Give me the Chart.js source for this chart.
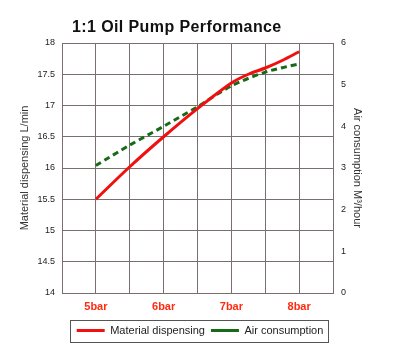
<!DOCTYPE html>
<html lang="en">
<head>
    <meta charset="UTF-8">
    <title>1:1 Oil Pump Performance</title>
    <script src="https://cdn.jsdelivr.net/npm/chart.js"></script>
    <style>
        html, body { margin: 0; padding: 0; background: #fff; }
        #wrap { width: 400px; height: 364px; }
    </style>
</head>
<body>
    <div id="wrap"><canvas id="myChart" width="400" height="364"></canvas></div>
    <script>
        // pressure (bar) and readings
        const pressureMaterial = [5, 5.5, 6, 6.5, 7, 7.25, 7.5, 7.75, 8];
        const materialDispensing = [15.5, 16.02, 16.5, 16.95, 17.36, 17.5, 17.6, 17.72, 17.86];
        const pressureAir = [5, 5.5, 6, 6.5, 7, 7.5, 8];
        const airConsumption = [3.06, 3.55, 4.0, 4.47, 4.97, 5.3, 5.5];
        const xTickValues = [5, 6, 7, 8];
        const xTickLabels = ['5bar', '6bar', '7bar', '8bar'];

        const gridColor = '#7a6f6f';
        const fontFamily = '"Liberation Sans", Arial, sans-serif';

        // chart title sits a bit left of center in the original
        const titlePlugin = {
            id: 'titleText',
            afterDraw(chart) {
                const ctx = chart.ctx;
                ctx.save();
                ctx.font = 'bold 16px ' + fontFamily;
                ctx.letterSpacing = '0.4px';
                ctx.fillStyle = '#111';
                ctx.textBaseline = 'middle';
                ctx.textAlign = 'left';
                ctx.fillText('1:1 Oil Pump Performance', chart.chartArea.left + 10, 28);
                ctx.restore();
            }
        };

        // border round the legend
        const legendBox = {
            id: 'legendBox',
            afterDraw(chart) {
                const boxes = chart.legend.legendHitBoxes;
                if (!boxes || !boxes.length) return;
                const left = Math.min(...boxes.map(b => b.left)) - 7;
                const right = Math.max(...boxes.map(b => b.left + b.width)) + 4;
                const top = Math.min(...boxes.map(b => b.top)) - 5;
                const bottom = Math.max(...boxes.map(b => b.top + b.height)) + 6;
                const ctx = chart.ctx;
                ctx.save();
                ctx.strokeStyle = '#555';
                ctx.lineWidth = 1;
                ctx.strokeRect(Math.round(left) + 0.5, Math.round(top) + 0.5, Math.round(right - left), Math.round(bottom - top));
                ctx.restore();
            }
        };

        const ctx = document.getElementById('myChart').getContext('2d');
        const myChart = new Chart(ctx, {
            type: 'line',
            data: {
                datasets: [
                    {
                        label: 'Material dispensing',
                        data: pressureMaterial.map((x, i) => ({ x: x, y: materialDispensing[i] })),
                        borderColor: '#f01010',
                        backgroundColor: '#f01010',
                        borderWidth: 3,
                        pointRadius: 0,
                        tension: 0.3,
                        yAxisID: 'y',
                        fill: false
                    },
                    {
                        label: 'Air consumption',
                        data: pressureAir.map((x, i) => ({ x: x, y: airConsumption[i] })),
                        borderColor: '#176b17',
                        backgroundColor: '#176b17',
                        borderWidth: 3,
                        borderDash: [6, 4],
                        pointRadius: 0,
                        tension: 0.3,
                        yAxisID: 'y1',
                        fill: false
                    }
                ]
            },
            options: {
                responsive: false,
                animation: false,
                layout: { padding: { top: 43, bottom: 18, left: 0, right: 0 } },
                plugins: {
                    title: { display: false },
                    tooltip: { enabled: false },
                    legend: {
                        position: 'bottom',
                        labels: {
                            usePointStyle: true,
                            pointStyle: 'line',
                            pointStyleWidth: 28,
                            boxWidth: 28,
                            boxHeight: 11,
                            padding: 6,
                            color: '#222',
                            font: { size: 11, family: fontFamily }
                        }
                    }
                },
                scales: {
                    x: {
                        type: 'linear',
                        min: 4.5,
                        max: 8.5,
                        afterFit(scale) { scale.height = 26; },
                        ticks: {
                            stepSize: 0.5,
                            padding: 7,
                            color: '#ff2a10',
                            font: { size: 11, weight: 'bold', family: fontFamily },
                            callback: v => {
                                const i = xTickValues.indexOf(v);
                                return i >= 0 ? xTickLabels[i] : '';
                            },
                            maxRotation: 0,
                            autoSkip: false
                        },
                        grid: { color: gridColor, drawTicks: false },
                        border: { color: gridColor }
                    },
                    y: {
                        position: 'left',
                        min: 14,
                        max: 18,
                        afterFit(scale) { scale.width = 62; },
                        ticks: {
                            stepSize: 0.5,
                            padding: 7,
                            color: '#222',
                            font: { size: 9, family: fontFamily },
                            callback: v => String(v)
                        },
                        title: {
                            display: true,
                            text: 'Material dispensing L/min',
                            color: '#333',
                            padding: { top: 18, bottom: 0 },
                            font: { size: 11, family: fontFamily }
                        },
                        grid: { color: gridColor, drawTicks: false },
                        border: { color: gridColor }
                    },
                    y1: {
                        position: 'right',
                        min: 0,
                        max: 6,
                        afterFit(scale) { scale.width = 67; },
                        ticks: {
                            stepSize: 1,
                            padding: 8,
                            color: '#222',
                            font: { size: 9, family: fontFamily },
                            callback: v => String(v)
                        },
                        title: {
                            display: true,
                            text: 'Air consumption M³/hour',
                            color: '#333',
                            padding: { top: 36, bottom: 0 },
                            font: { size: 11, family: fontFamily }
                        },
                        grid: { drawOnChartArea: false, drawTicks: false },
                        border: { color: gridColor }
                    }
                }
            },
            plugins: [titlePlugin, legendBox]
        });
    </script>
</body>
</html>
